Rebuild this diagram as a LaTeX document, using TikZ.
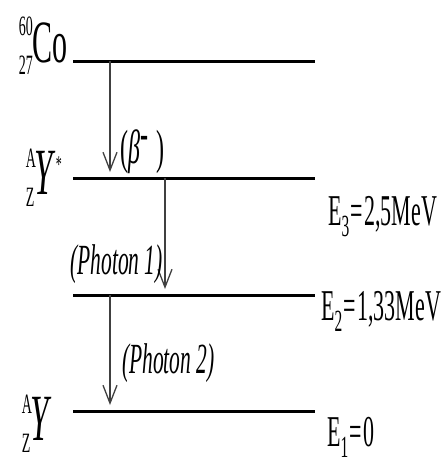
\documentclass[tikz,border=0pt]{standalone}
\usepackage{fontspec}
\setmainfont{Liberation Serif}[FakeStretch=0.5]
\usetikzlibrary{arrows.meta}

\newcommand\nucl[2]{\rlap{\raisebox{27pt}{\fontsize{28}{28}\selectfont #1}}\raisebox{-12pt}{\fontsize{28}{28}\selectfont #2}}

\begin{document}
\begin{tikzpicture}[x=1pt, y=-1pt,
    level/.style={line width=3pt},
    decay/.style={-{Straight Barb[length=18pt, width=14pt]}, line width=1.3pt, black!75, shorten >=6pt},
    nuc/.style={inner sep=0pt, anchor=base east},
    energy/.style={inner sep=0pt, anchor=base west, font=\fontsize{44}{44}\selectfont},
    emission/.style={inner sep=0pt, font=\fontsize{43}{43}\selectfont\itshape}
]
\useasboundingbox (0,0) rectangle (441,459);

\coordinate (co-l) at (73,61);    \coordinate (co-r) at (315,61);
\coordinate (yex-l) at (73,178);  \coordinate (yex-r) at (315,178);
\coordinate (ymid-l) at (73,295); \coordinate (ymid-r) at (315,295);
\coordinate (ygs-l) at (73,411);  \coordinate (ygs-r) at (315,411);

\draw[level] (co-l) -- (co-r);
\draw[level] (yex-l) -- (yex-r);
\draw[level] (ymid-l) -- (ymid-r);
\draw[level] (ygs-l) -- (ygs-r);

\node[nuc, font=\fontsize{60}{60}\selectfont] (co) at (68,62) {\nucl{60}{27}Co};
\node[nuc, font=\fontsize{66}{66}\selectfont] (yex) at (62,194) {\nucl{A}{Z}\textit{Y}\raisebox{22pt}{\fontsize{24}{24}\selectfont *}};
\node[nuc, font=\fontsize{66}{66}\selectfont] (ygs) at (52,440) {\nucl{A}{Z}\textit{Y}};

\node[energy] (e3) at (328,225) {E\textsubscript{3}\kern1pt=\kern1pt2,5MeV};
\node[energy] (e2) at (321,320) {E\textsubscript{2}\kern1pt=\kern1pt1,33MeV};
\node[energy] (e1) at (327,446) {E\textsubscript{1}\kern1pt=\kern1pt0};

\coordinate (beta) at (110,61);
\coordinate (gam1) at (165,178);
\coordinate (gam2) at (110,295);

\draw[decay] (beta) -- (beta |- yex-l);
\draw[decay] (gam1) -- (gam1 |- ymid-l);
\draw[decay] (gam2) -- (gam2 |- ygs-l);

\node[inner sep=0pt, anchor=south west, font=\fontsize{48}{48}\selectfont] (betalbl) at (120,174) {(\textit{β}\raisebox{14pt}{-}\,)};
\node[emission, anchor=east] (ph1) at (163,264) {(Photon 1)};
\node[emission, anchor=west] (ph2) at (122,363) {(Photon 2)};
\end{tikzpicture}
\end{document}
